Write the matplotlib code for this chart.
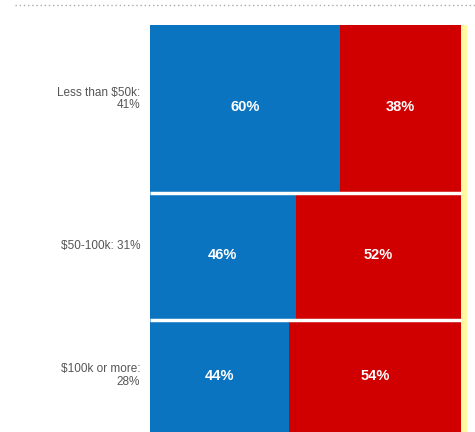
import numpy as np
import matplotlib.pyplot as plt
from matplotlib.lines import Line2D
import matplotlib.transforms as mtransforms

# Income groups, share of voters in each group, and vote split inside it
groups = ['Less than $50k:\n41%', '$50-100k: 31%', '$100k or more:\n28%']
group_share = [41, 31, 28]
dem = [60, 46, 44]
rep = [38, 52, 54]
other = [2, 2, 2]

blue = '#0a74c0'
red = '#d00000'
yellow = '#fff9a0'

fig = plt.figure(figsize=(4.75, 4.32), dpi=100)
W, H = 475, 432
ax = fig.add_axes([150 / W, 0, 317 / W, 1 - 25 / H])

tops = np.concatenate([[0], np.cumsum(group_share)[:-1]])
for i in range(len(groups)):
    y = tops[i]
    h = group_share[i]
    ax.barh(y, dem[i], height=h, align='edge', color=blue, linewidth=0)
    ax.barh(y, rep[i], left=dem[i], height=h, align='edge', color=red, linewidth=0)
    ax.barh(y, other[i], left=dem[i] + rep[i], height=h, align='edge', color=yellow, linewidth=0)
    yc = y + h / 2 - 0.5
    ax.text(dem[i] / 2, yc, f'{dem[i]}%', color='white', fontsize=10.5,
            fontweight='bold', ha='center', va='center', family='Liberation Sans')
    ax.text(dem[i] + rep[i] / 2, yc, f'{rep[i]}%', color='white', fontsize=10.5,
            fontweight='bold', ha='center', va='center', family='Liberation Sans')

# white gaps between the income rows
for y in tops[1:]:
    ax.plot([0, 98], [y, y], color='white', linewidth=2.5, solid_capstyle='butt')

# group labels to the left of the bars
trans = mtransforms.blended_transform_factory(ax.transAxes, ax.transData)
label_y = [tops[0] + 18, tops[1] + 13, tops[2] + 13.5]
for lab, ly in zip(groups, label_y):
    ax.annotate(lab, xy=(0, ly), xycoords=trans, xytext=(-7, 0), textcoords='offset points',
                ha='right', va='center', fontsize=8.5, color='#555555',
                family='Liberation Sans', linespacing=1.05, annotation_clip=False)

ax.set_xlim(0, 100)
ax.set_ylim(407 / 4.1, 0)
ax.axis('off')

# dotted rule across the top
fig.add_artist(Line2D([15 / W, 1], [1 - 5 / H, 1 - 5 / H], color='#aaaaaa',
                      linestyle=(0, (1, 2)), linewidth=1))

plt.savefig('out.png', dpi=100)
